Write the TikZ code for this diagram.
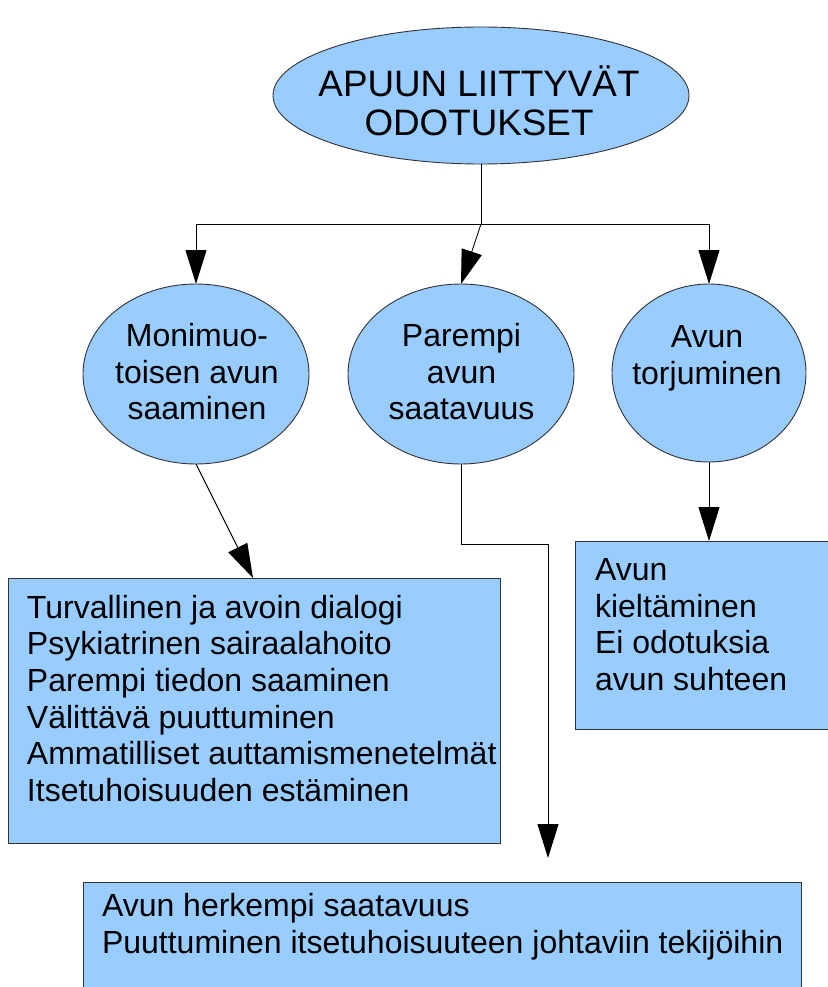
\documentclass[tikz,border=0pt]{standalone}
\usepackage{fontspec}
\setmainfont{Liberation Sans}
\usetikzlibrary{arrows.meta,shapes.geometric,calc}
\definecolor{fillblue}{RGB}{153,204,255}
\newcommand{\bodyfont}{\fontsize{32}{36.7}\selectfont}
\newcommand{\titlefont}{\fontsize{36.8}{38.6}\selectfont}
\begin{document}
\begin{tikzpicture}[x=1pt,y=-1pt,
  ell/.style={ellipse,draw=black!80,fill=fillblue,line width=0.9pt,inner sep=0pt,outer sep=0pt},
  boxnode/.style={rectangle,draw=black!80,fill=fillblue,line width=0.9pt,inner sep=0pt,outer sep=0pt,anchor=north west},
  txt/.style={inner sep=0pt,outer sep=0pt},
  conn/.style={draw=black,line width=0.9pt},
  arr/.style={conn,-{Triangle[length=34pt,width=21pt]}}]
\useasboundingbox[fill=white] (0,0) rectangle (827,987);

% ellipses
\node[ell,minimum width=416pt,minimum height=137pt] (top) at (481,95.5) {};
\node[ell,minimum width=226pt,minimum height=180pt] (left) at (196,374) {};
\node[ell,minimum width=226pt,minimum height=180pt] (mid) at (461,374) {};
\node[ell,minimum width=194pt,minimum height=178pt] (right) at (709,373) {};

% boxes
\node[boxnode,minimum width=492pt,minimum height=265pt] (lbox) at (8,578) {};
\node[boxnode,minimum width=265pt,minimum height=188pt] (rbox) at (575,541) {};
\node[boxnode,minimum width=718pt,minimum height=118pt] (bbox) at (83,882) {};

% texts
\node[txt,anchor=base] (toptxt) at (479,96.5) {\titlefont\begin{tabular}[t]{@{}c@{}}APUUN LIITTYVÄT\\ODOTUKSET\end{tabular}};
\node[txt,anchor=base] (lefttxt) at (197,346.5) {\bodyfont\begin{tabular}[t]{@{}c@{}}Monimuo-\\toisen avun\\saaminen\end{tabular}};
\node[txt,anchor=base] (midtxt) at (461.5,346.5) {\bodyfont\begin{tabular}[t]{@{}c@{}}Parempi\\avun\\saatavuus\end{tabular}};
\node[txt,anchor=base] (righttxt) at (707,347.8) {\bodyfont\begin{tabular}[t]{@{}c@{}}Avun\\torjuminen\end{tabular}};
\node[txt,anchor=base west] (lboxtxt) at (27,618) {\bodyfont\begin{tabular}[t]{@{}l@{}}Turvallinen ja avoin dialogi\\Psykiatrinen sairaalahoito\\Parempi tiedon saaminen\\Välittävä puuttuminen\\Ammatilliset auttamismenetelmät\\Itsetuhoisuuden estäminen\end{tabular}};
\node[txt,anchor=base west] (rboxtxt) at (595,580.5) {\bodyfont\begin{tabular}[t]{@{}l@{}}Avun\\kieltäminen\\Ei odotuksia\\avun suhteen\end{tabular}};
\node[txt,anchor=base west] (bboxtxt) at (102,916.5) {\bodyfont\begin{tabular}[t]{@{}l@{}}Avun herkempi saatavuus\\Puuttuminen itsetuhoisuuteen johtaviin tekijöihin\end{tabular}};

% connectors
\coordinate (j) at (481,224);
\coordinate (k) at (548,544);
\coordinate (btip) at (548,858);
\draw[conn] (top.south) -- (j);
\draw[arr] (j) -| (left.north);
\draw[arr] (j) -| (right.north);
\draw[arr] (j) -- (mid.north);
\draw[arr] (left.south) -- ($(lbox.north west)+(245,0)$);
\draw[arr] (mid.south) |- (k) -- (btip);
\draw[arr] (right.south) -- (right.south |- rbox.north);
\end{tikzpicture}
\end{document}
